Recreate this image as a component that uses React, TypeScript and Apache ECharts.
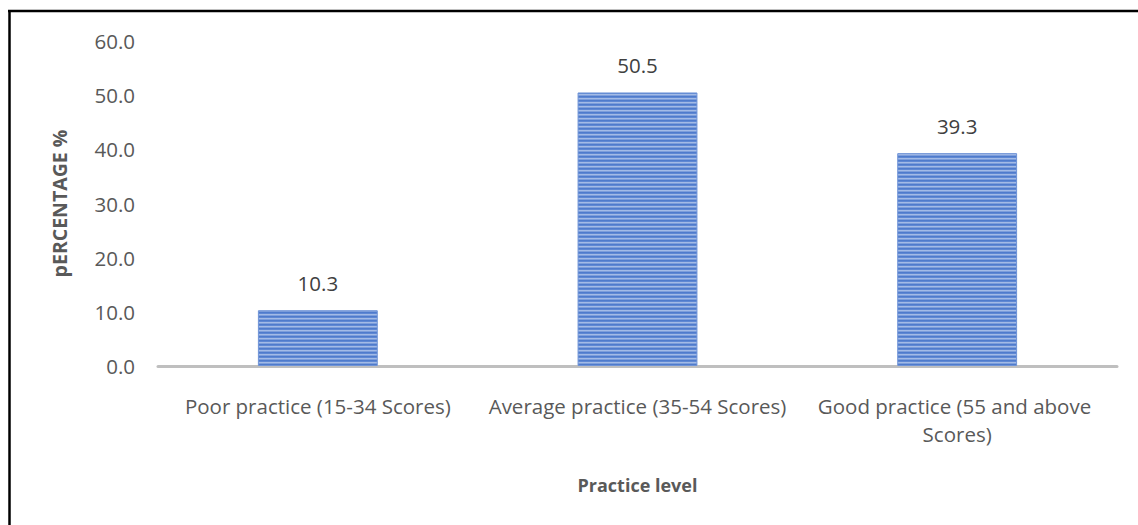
import React, { useEffect, useRef } from "react";
import * as echarts from "echarts";

const categories = [
  "Poor practice (15-34 Scores)",
  "Average practice (35-54 Scores)",
  "Good practice (55 and above Scores)",
];
const percentages = [10.3, 50.5, 39.3];
const yTicks = { min: 0, max: 60, interval: 10 };

function stripePattern(): HTMLCanvasElement {
  const c = document.createElement("canvas");
  c.width = 4;
  c.height = 4;
  const ctx = c.getContext("2d")!;
  const rows = ["#4f7bcc", "#5f88d3", "#a3bbe6", "#7d9edb"];
  rows.forEach((col, i) => {
    ctx.fillStyle = col;
    ctx.fillRect(0, i, 4, 1);
  });
  return c;
}

export default function App() {
  const ref = useRef<HTMLDivElement>(null);

  useEffect(() => {
    if (!ref.current) return;
    const chart = echarts.init(ref.current, null, { renderer: "svg" });
    const font = "'Open Sans', 'Liberation Sans', sans-serif";
    chart.setOption({
      animation: false,
      backgroundColor: "#ffffff",
      textStyle: { fontFamily: font, color: "#595959" },
      grid: { left: 158, right: 21, top: 41, bottom: 159, containLabel: false },
      xAxis: {
        type: "category",
        data: categories,
        axisLine: { lineStyle: { color: "#bfbfbf", width: 3 } },
        axisTick: { show: false },
        axisLabel: {
          color: "#595959",
          fontSize: 20.5,
          fontFamily: font,
          margin: 26,
          width: 318,
          overflow: "break",
          lineHeight: 28,
          interval: 0,
        },
        name: "Practice level",
        nameLocation: "middle",
        nameGap: 110,
        nameTextStyle: { color: "#595959", fontSize: 18, fontWeight: "bold", fontFamily: font },
      },
      yAxis: {
        type: "value",
        min: yTicks.min,
        max: yTicks.max,
        interval: yTicks.interval,
        axisLine: { show: false },
        axisTick: { show: false },
        splitLine: { show: false },
        axisLabel: {
          color: "#595959",
          fontSize: 20.5,
          fontFamily: font,
          margin: 23,
          formatter: (v: number) => v.toFixed(1),
        },
        name: "pERCENTAGE %",
        nameLocation: "middle",
        nameRotate: 90,
        nameGap: 89,
        nameTextStyle: { color: "#595959", fontSize: 19.5, fontWeight: "bold", fontFamily: font },
      },
      series: [
        {
          type: "bar",
          data: percentages,
          barWidth: "37.5%",
          itemStyle: {
            color: { image: stripePattern(), repeat: "repeat" },
            borderColor: "#6f93d6",
            borderWidth: 1,
          },
          label: {
            show: true,
            position: "top",
            distance: 17,
            color: "#404040",
            fontSize: 20.5,
            fontFamily: font,
            formatter: (p: any) => Number(p.value).toFixed(1),
          },
        },
      ],
      graphic: [
        { type: "line", shape: { x1: 9.5, y1: 10, x2: 9.5, y2: 525 }, style: { stroke: "#000", lineWidth: 2.5 } },
        { type: "line", shape: { x1: 8, y1: 11, x2: 1138, y2: 11 }, style: { stroke: "#000", lineWidth: 2.5 } },
      ],
    });
    return () => chart.dispose();
  }, []);

  return (
    <div
      ref={ref}
      style={{ position: "fixed", left: 0, top: 0, width: 1138, height: 525 }}
    />
  );
}
